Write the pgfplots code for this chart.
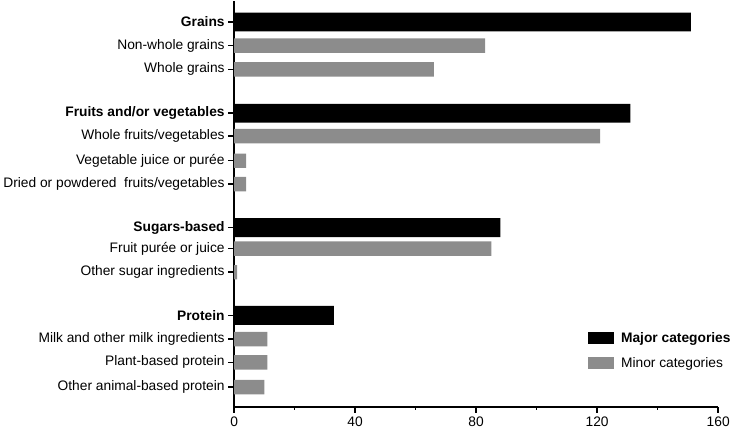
\documentclass[border=0pt]{standalone}
\usepackage{pgfplots}
\pgfplotsset{compat=1.18}
\usepackage{fontspec}
\setmainfont{Liberation Sans}
\definecolor{minorgray}{RGB}{140,140,140}
\begin{document}
\begin{tikzpicture}
\begin{axis}[
  scale only axis, width=485bp, height=407bp,
  xmin=0, xmax=160, ymin=-409, ymax=-2,
  axis x line*=bottom, axis y line*=left,
  axis line style={-, line width=1.5bp},
  xtick={0,40,80,120,160}, minor xtick={20,60,100,140},
  ytick={-389,-364.3,-341,-317.3,-274,-250.3,-229.3,-185.7,-162.3,-137.7,-114.7,-70.7,-47,-23.3},
  yticklabels={Other animal-based protein, Plant-based protein, Milk and other milk ingredients, \textbf{Protein}\hspace{3bp}, Other sugar ingredients, Fruit purée or juice, \textbf{Sugars-based}\hspace{3bp}, Dried or powdered\ \ fruits/vegetables, Vegetable juice or purée, Whole fruits/vegetables, \textbf{Fruits and/or vegetables}, Whole grains, Non-whole grains, \textbf{Grains}},
  tick align=outside,
  major tick length=6bp, minor tick length=3bp,
  every tick/.style={black, line width=1.5bp},
  tick label style={font=\fontsize{13.8bp}{16bp}\selectfont},
  /pgf/number format/assume math mode=true,
  xbar, bar shift=0pt,
  legend image code/.code={\fill[#1] (0bp,-6bp) rectangle (26bp,6bp); \path (31bp,0bp);},
  legend style={draw=none, fill=none, inner sep=0pt, at={(0.731,0.189)}, anchor=north west,
    font=\fontsize{13.8bp}{16bp}\selectfont, row sep=9.7bp, cells={anchor=west}},
]
\addplot[fill=black, draw=none, bar width=19bp] coordinates {(151,-23.3) (131,-114.7) (88,-229.3) (33,-317.3)};
\addplot[fill=minorgray, draw=none, bar width=14.5bp] coordinates {(83,-47) (66,-70.7) (121,-137.7) (4,-162.3) (4,-185.7) (85,-250.3) (1,-274) (11,-341) (11,-364.3) (10,-389)};
\legend{\textbf{Major categories}, Minor categories}
\end{axis}
\end{tikzpicture}
\end{document}
